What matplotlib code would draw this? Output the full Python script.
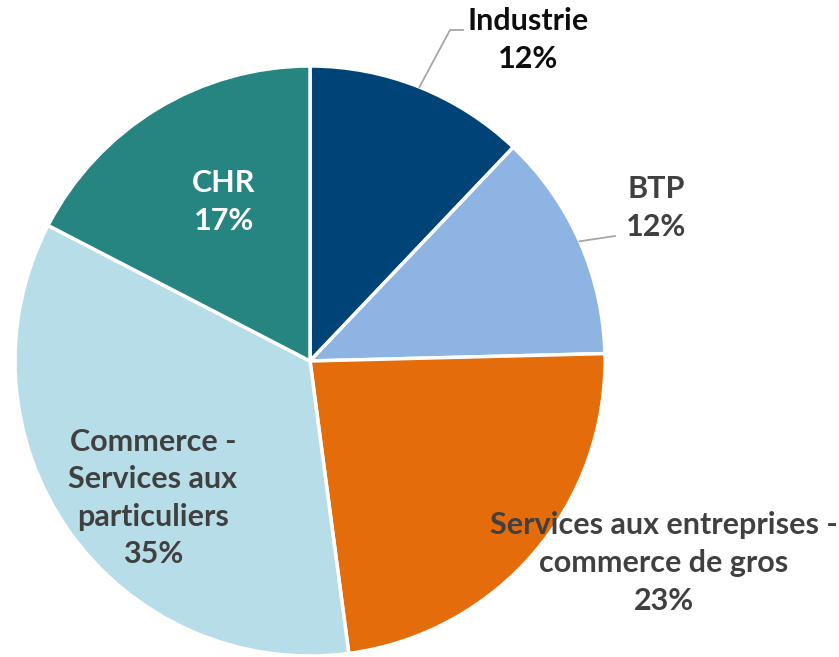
import numpy as np
import matplotlib.pyplot as plt

# parts of the pie, in %, clockwise from the top
categories = ["Industrie", "BTP", "Services aux entreprises -\ncommerce de gros",
              "Commerce -\nServices aux\nparticuliers", "CHR"]
values = [12.1, 12.5, 23.3, 34.7, 17.4]
shown = ["12%", "12%", "23%", "35%", "17%"]
colors = ["#004477", "#8EB4E3", "#E46C0A", "#B7DDE8", "#268580"]
text_colors = ["#0d0d0d", "#404040", "#404040", "#404040", "#ffffff"]

W, H = 839, 657
cx, cy, r = 310, H - 361, 295

plt.rcParams["font.family"] = ["Lato", "DejaVu Sans"]
fig = plt.figure(figsize=(W / 100, H / 100), dpi=100)
ax = fig.add_axes([0, 0, 1, 1])

wedges, _ = ax.pie(values, colors=colors, startangle=90, counterclock=False,
                   center=(cx, cy), radius=r, frame=True,
                   wedgeprops=dict(edgecolor="white", linewidth=2.5))
ax.set_xlim(0, W)
ax.set_ylim(0, H)
ax.set_aspect("equal")
ax.axis("off")

# label centres in picture pixels (x, y from top)
label_pos = [(528, 40), (656, 208), (664, 563), (153, 498), (224, 202)]
for i, (cat, pct) in enumerate(zip(categories, shown)):
    x, y = label_pos[i]
    ax.text(x, H - y, cat + "\n" + pct, ha="center", va="center",
            fontsize=22, fontweight="bold", color=text_colors[i],
            linespacing=1.42)

# leader lines for the two small slices
def edge_point(w):
    a = np.deg2rad((w.theta1 + w.theta2) / 2)
    return cx + r * np.cos(a), cy + r * np.sin(a)

ex, ey = edge_point(wedges[0])
ax.plot([ex, 450, 463], [ey, H - 30, H - 30], color="#a6a6a6", lw=1.3)
ex, ey = edge_point(wedges[1])
ax.plot([ex, 615], [ey, H - 236], color="#a6a6a6", lw=1.3)

fig.savefig("out.png", dpi=100, facecolor="white")
